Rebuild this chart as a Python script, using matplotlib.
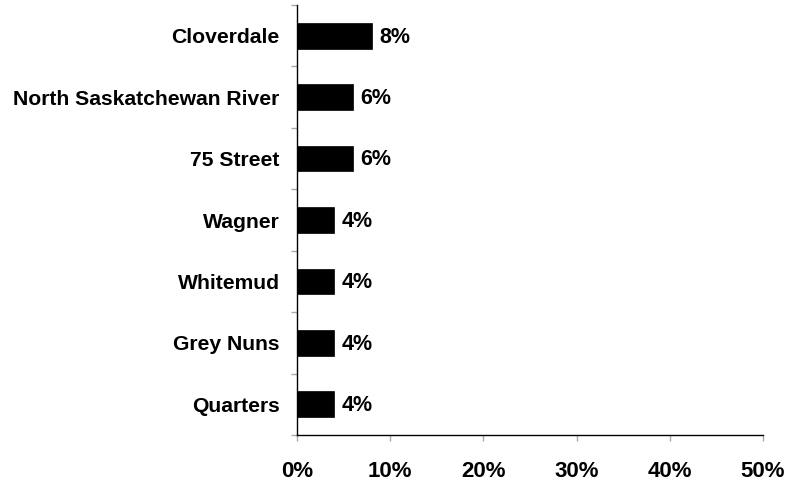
import matplotlib
matplotlib.use("Agg")
import matplotlib.pyplot as plt
import numpy as np

categories = ["Cloverdale", "North Saskatchewan River", "75 Street", "Wagner",
              "Whitemud", "Grey Nuns", "Quarters"]
values = [8, 6, 6, 4, 4, 4, 4]
value_labels = ["8%", "6%", "6%", "4%", "4%", "4%", "4%"]
x_ticks = [0, 10, 20, 30, 40, 50]
x_tick_labels = ["0%", "10%", "20%", "30%", "40%", "50%"]

plt.rcParams['font.family'] = ['Liberation Sans', 'DejaVu Sans']
plt.rcParams['font.weight'] = 'bold'

fig = plt.figure(figsize=(7.9, 4.86), dpi=100)
ax = fig.add_axes([297/790, 1 - 435/486, (763 - 297)/790, (435 - 5)/486])

n = len(categories)
ypos = np.arange(n)
ax.barh(ypos, values, height=0.42, color='black', edgecolor='black', linewidth=0.5)

for y, v, lab in zip(ypos, values, value_labels):
    ax.annotate(lab, xy=(v, y), xytext=(5.5, -1), textcoords='offset points',
                ha='left', va='center', fontsize=15.5, fontweight='bold')

ax.set_xlim(0, 50)
ax.set_ylim(n - 0.5, -0.5)
ax.set_yticks(ypos)
ax.set_yticklabels(categories, fontsize=15.2, fontweight='bold')
ax.set_yticks(np.arange(-0.5, n, 1.0), minor=True)
ax.tick_params(axis='y', which='major', length=0, pad=12.5)
ax.tick_params(axis='y', which='minor', length=4, color='#aaaaaa', width=1)

ax.set_xticks(x_ticks)
ax.set_xticklabels(x_tick_labels, fontsize=16, fontweight='bold')
ax.tick_params(axis='x', which='major', length=4, color='#aaaaaa', width=1, pad=15)

for s in ['top', 'right']:
    ax.spines[s].set_visible(False)
for s in ['left', 'bottom']:
    ax.spines[s].set_color('black')
    ax.spines[s].set_linewidth(1)

fig.savefig("out.png", dpi=100)
